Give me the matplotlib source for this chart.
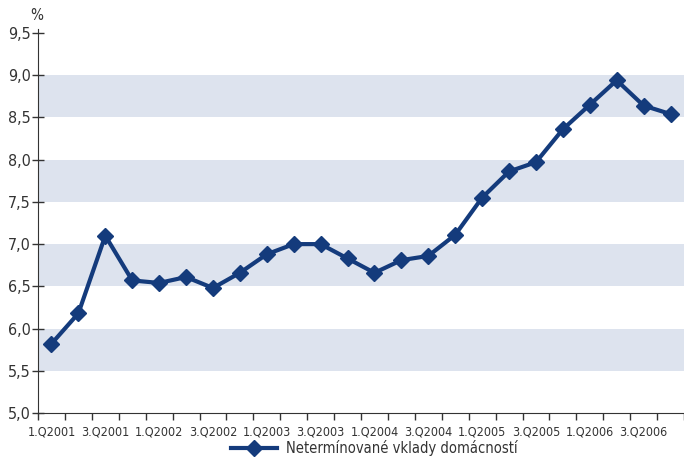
import numpy as np
import matplotlib.pyplot as plt
from matplotlib.ticker import FixedLocator, FuncFormatter

quarters = [f"{q}.Q{y}" for y in range(2001, 2007) for q in range(1, 5)]
values = [5.82, 6.18, 7.10, 6.57, 6.54, 6.61, 6.48, 6.66, 6.88, 7.00, 7.00, 6.83,
          6.66, 6.81, 6.86, 7.11, 7.55, 7.86, 7.97, 8.36, 8.65, 8.94, 8.64, 8.54]
series_name = "Netermínované vklady domácností"
bands = [(5.5, 6.0), (6.5, 7.0), (7.5, 8.0), (8.5, 9.0)]

plt.rcParams['font.family'] = ['DejaVu Sans']
plt.rcParams['font.stretch'] = 'condensed'
text_color = '#333333'
line_color = '#143b7c'

fig = plt.figure(figsize=(6.84, 4.58), dpi=100)
ax = fig.add_axes([38 / 684, 1 - 413 / 458, 1 - 38 / 684, 380 / 458])

for lo, hi in bands:
    ax.axhspan(lo, hi, color='#dde3ee', lw=0, zorder=0)

x = np.arange(len(quarters))
ax.plot(x, values, color=line_color, lw=3, marker='D', markersize=8,
        label=series_name, zorder=3)

ax.set_xlim(-0.5, len(quarters) - 0.5)
ax.set_ylim(5.0, 9.5)
ax.set_yticks(np.arange(5.0, 9.51, 0.5))
ax.yaxis.set_major_formatter(FuncFormatter(lambda v, p: f"{v:.1f}".replace('.', ',')))
ax.tick_params(axis='y', direction='inout', length=8, width=1, labelsize=11.5,
               colors=text_color, pad=1)

ax.set_xticks(x[::2])
ax.set_xticklabels(quarters[::2])
ax.xaxis.set_minor_locator(FixedLocator(np.arange(-0.5, len(quarters), 1)))
ax.tick_params(axis='x', which='major', length=0, labelsize=9,
               colors=text_color, pad=9)
ax.tick_params(axis='x', which='minor', direction='out', length=5, width=1,
               color=text_color)

for s in ['top', 'right']:
    ax.spines[s].set_visible(False)
ax.spines['left'].set_color(text_color)
ax.spines['bottom'].set_color(text_color)
ax.spines['left'].set_bounds(5.0, 9.55)

fig.text(30 / 684, 1 - 16 / 458, "%", fontsize=11, color=text_color,
         ha='left', va='center')

fig.legend(loc='lower center', bbox_to_anchor=(0.547, -0.022), frameon=False,
           fontsize=10.5, labelcolor=text_color, handlelength=3.2,
           handletextpad=0.6, borderpad=0.3)

fig.savefig("out.png", dpi=100)
